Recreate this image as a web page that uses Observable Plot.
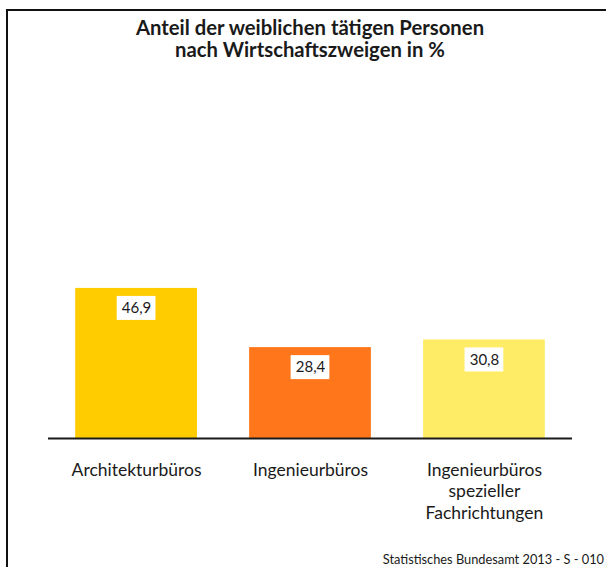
<!DOCTYPE html>
<html>
<head>
<meta charset="utf-8">
<script src="https://cdn.jsdelivr.net/npm/d3@7"></script>
<script src="https://cdn.jsdelivr.net/npm/@observablehq/plot@0.6"></script>
<style>
  html, body { margin: 0; padding: 0; background: #fff; }
  #wrap { position: relative; width: 606px; height: 567px; overflow: hidden; background: #fff; font-family: Lato, sans-serif; color: #1a1a1a; }
  #frame { position: absolute; left: 6px; top: 9px; width: 800px; height: 800px; border-left: 2px solid #111; border-top: 2px solid #111; }
  #title { position: absolute; left: 0; top: 16px; width: 620px; text-align: center; font-weight: bold; font-size: 20.3px; line-height: 22px; }
  #chart { position: absolute; left: 0; top: 0; }
  #caption { position: absolute; right: 2px; top: 552px; font-size: 12.8px; line-height: 15px; white-space: nowrap; }
</style>
</head>
<body>
<div id="wrap">
  <div id="frame"></div>
  <div id="title">Anteil der weiblichen tätigen Personen<br>nach Wirtschaftszweigen in %</div>
  <div id="chart"></div>
  <div id="caption">Statistisches Bundesamt 2013 - S - 010</div>
</div>
<script>
const categories = ["Architekturbüros", "Ingenieurbüros", "Ingenieurbüros spezieller Fachrichtungen"];
const values = [46.9, 28.4, 30.8];
const tickLabels = ["Architekturbüros", "Ingenieurbüros", "Ingenieurbüros\nspezieller\nFachrichtungen"];
const barColors = ["#FFCC00", "#FF761B", "#FFEC66"];

const data = categories.map((c, i) => ({
  cat: c,
  value: values[i],
  label: values[i].toFixed(1).replace(".", ","),
  tick: tickLabels[i]
}));

const chart = Plot.plot({
  width: 606,
  height: 567,
  marginLeft: 23,
  marginRight: 9,
  marginTop: 118,
  marginBottom: 129,
  style: { background: "transparent", fontFamily: "Lato, sans-serif" },
  x: { domain: categories, padding: 0.3, round: false, axis: null },
  y: { domain: [0, 100], axis: null },
  color: { domain: categories, range: barColors },
  marks: [
    Plot.barY(data, { x: "cat", y: "value", fill: "cat" }),
    Plot.ruleY([0], { stroke: "#1a1a1a", strokeWidth: 2, insetLeft: 25, insetRight: 25 }),
    Plot.barY(data, { x: "cat", y1: "value", y2: "value", fill: "white", insetLeft: 41.5, insetRight: 41.5, insetTop: 8, insetBottom: -32 }),
    Plot.text(data, { x: "cat", y: "value", text: "label", dy: 20, fontSize: 15, fill: "#1a1a1a" }),
    Plot.text(data, { x: "cat", y: 0, text: "tick", lineAnchor: "top", dy: 22, fontSize: 17.5, lineHeight: 1.23, fill: "#1a1a1a" })
  ]
});
document.getElementById("chart").appendChild(chart);
</script>
</body>
</html>
